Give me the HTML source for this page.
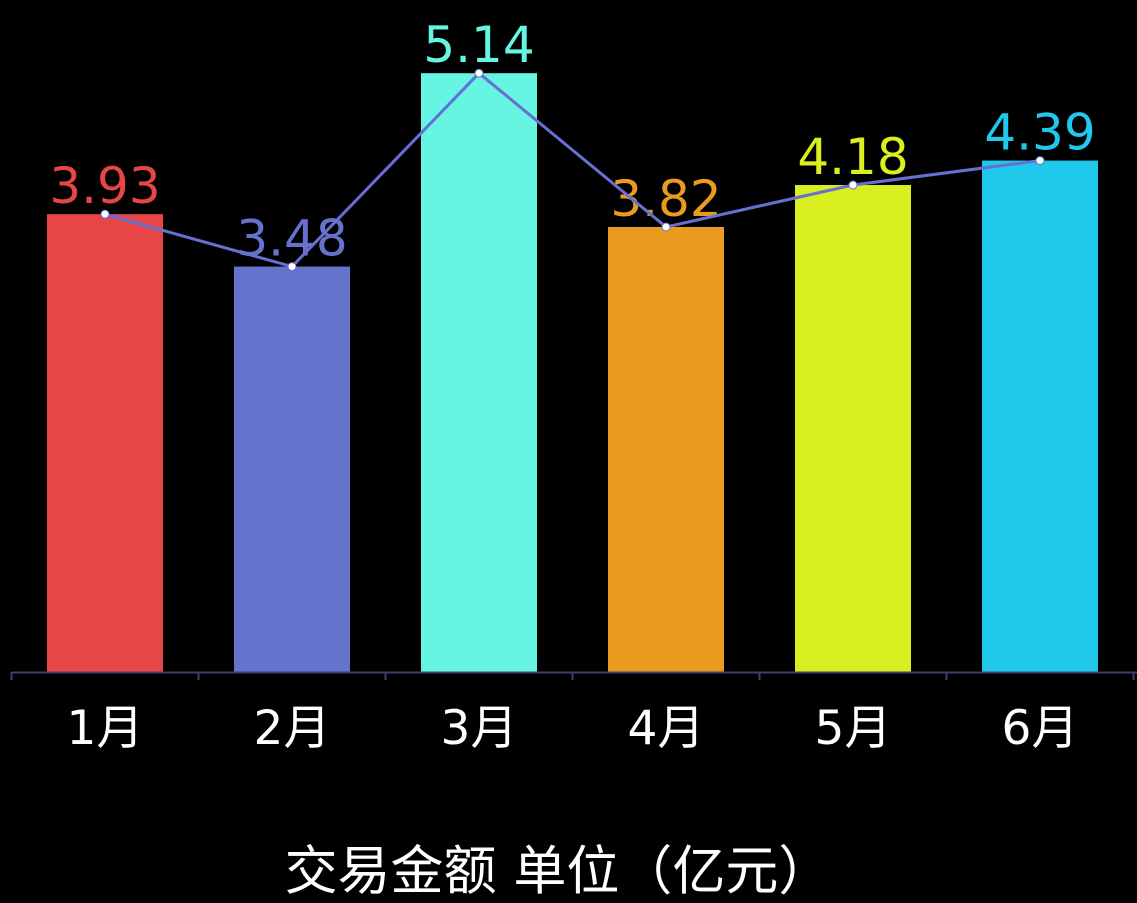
<!DOCTYPE html>
<html><head><meta charset="utf-8"><style>
html,body{margin:0;padding:0;background:#000;}
svg{display:block;font-family:"DejaVu Sans","Noto Sans CJK SC",sans-serif;}
</style></head><body>
<svg id="chart" width="1137" height="903"></svg>
<script>
const categories=["1月","2月","3月","4月","5月","6月"];
const values=[3.93,3.48,5.14,3.82,4.18,4.39];
const labels=["3.93","3.48","5.14","3.82","4.18","4.39"];
const colors=["#e84646","#6673cc","#66f5e2","#e89b1f","#d9ef20","#20c9ec"];
const svg=document.getElementById('chart');
const NS="http://www.w3.org/2000/svg";
const x0=11.5,bw=187,x1=1137,base=672,ppu=116.5;
function xc(i){return x0+bw*(i+0.5);}
function y(v){return base-v*ppu;}
function mk(t,a){const e=document.createElementNS(NS,t);for(const k in a)e.setAttribute(k,a[k]);svg.appendChild(e);return e;}
values.forEach((v,i)=>{
  const r=mk('rect',{x:xc(i)-58,y:y(v),width:116,height:base-y(v),fill:colors[i]});
  
  
});
const ax=mk('line',{x1:x0,y1:base+0.5,x2:x1,y2:base+0.5,stroke:'#3d4170','stroke-width':2});


for(let i=0;i<=categories.length;i++){
  const t=mk('line',{x1:x0+bw*i,y1:base,x2:x0+bw*i,y2:base+8,stroke:'#3d4170','stroke-width':2});
  
  
}
categories.forEach((c,i)=>{
  const t=mk('text',{x:xc(i),y:744,'text-anchor':'middle','font-size':47,fill:'#fff'});
  t.textContent=c;
  
  
});
values.forEach((v,i)=>{
  const t=mk('text',{x:xc(i),y:y(v)-11,'text-anchor':'middle','font-size':50,fill:colors[i]});
  t.textContent=labels[i];
  
  
});
const pl=mk('polyline',{points:values.map((v,i)=>xc(i)+','+y(v)).join(' '),fill:'none',stroke:'#6670d2','stroke-width':3});


values.forEach((v,i)=>{
  const c=mk('circle',{cx:xc(i),cy:y(v),r:4,fill:'#fff',stroke:'#6670d2','stroke-width':1});
  
  
});
const ti=mk('text',{x:558,y:889,'text-anchor':'middle','font-size':53,fill:'#fff'});
ti.textContent='交易金额 单位（亿元）';


</script>
</body></html>
